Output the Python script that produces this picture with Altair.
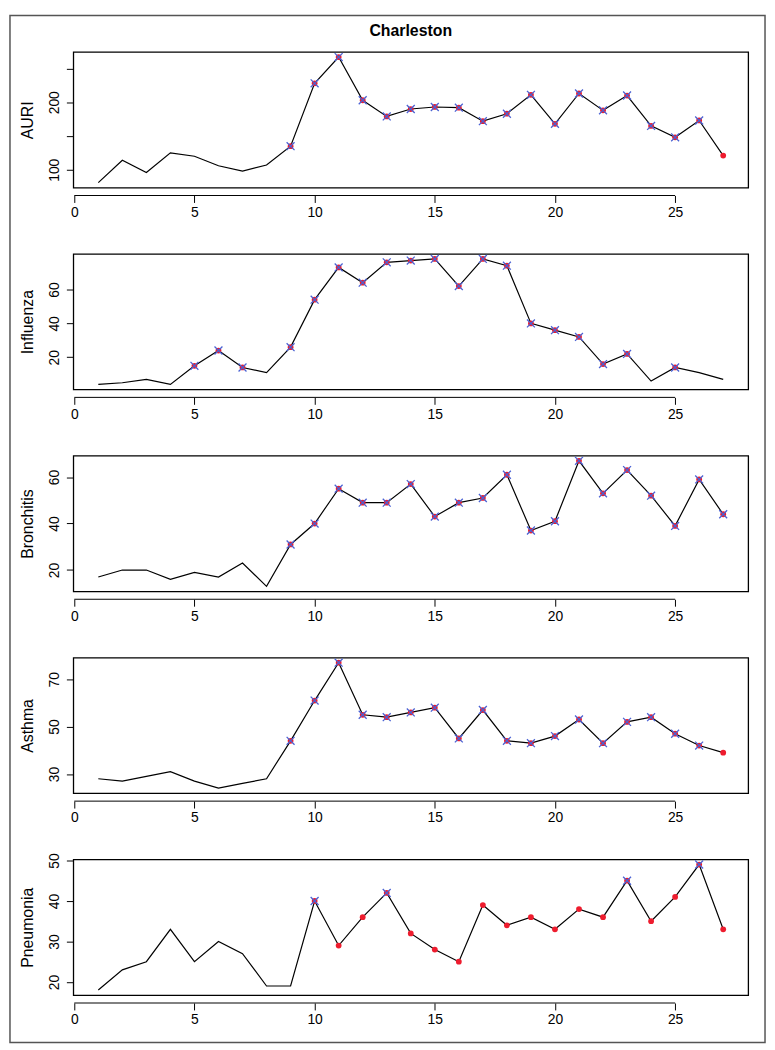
import altair as alt
import pandas as pd

weeks = [1, 2, 3, 4, 5, 6, 7, 8, 9, 10, 11, 12, 13, 14, 15, 16, 17, 18, 19, 20, 21, 22, 23, 24, 25, 26, 27]
x_ticks = [0, 5, 10, 15, 20, 25]

auri = [81, 114, 96, 125, 120, 106, 98, 107, 135, 228, 267, 203, 179, 190, 193, 192, 172, 183, 211, 168, 213, 188, 210, 165, 148, 173, 121]
influenza = [4, 5, 7, 4, 15, 24, 14, 11, 26, 54, 73, 64, 76, 77, 78, 62, 78, 74, 40, 36, 32, 16, 22, 6, 14, 11, 7]
bronchitis = [17, 20, 20, 16, 19, 17, 23, 13, 31, 40, 55, 49, 49, 57, 43, 49, 51, 61, 37, 41, 67, 53, 63, 52, 39, 59, 44]
asthma = [28, 27, 29, 31, 27, 24, 26, 28, 44, 61, 77, 55, 54, 56, 58, 45, 57, 44, 43, 46, 53, 43, 52, 54, 47, 42, 39]
pneumonia = [18, 23, 25, 33, 25, 30, 27, 19, 19, 40, 29, 36, 42, 32, 28, 25, 39, 34, 36, 33, 38, 36, 45, 35, 41, 49, 33]

# weeks flagged (red dot) and weeks with blue cross
auri_dot = [9, 10, 11, 12, 13, 14, 15, 16, 17, 18, 19, 20, 21, 22, 23, 24, 25, 26, 27]
auri_cross = [9, 10, 11, 12, 13, 14, 15, 16, 17, 18, 19, 20, 21, 22, 23, 24, 25, 26]
flu_dot = [5, 6, 7, 9, 10, 11, 12, 13, 14, 15, 16, 17, 18, 19, 20, 21, 22, 23, 25]
flu_cross = [5, 6, 7, 9, 10, 11, 12, 13, 14, 15, 16, 17, 18, 19, 20, 21, 22, 23, 25]
bron_dot = [9, 10, 11, 12, 13, 14, 15, 16, 17, 18, 19, 20, 21, 22, 23, 24, 25, 26, 27]
bron_cross = [9, 10, 11, 12, 13, 14, 15, 16, 17, 18, 19, 20, 21, 22, 23, 24, 25, 26, 27]
asthma_dot = [9, 10, 11, 12, 13, 14, 15, 16, 17, 18, 19, 20, 21, 22, 23, 24, 25, 26, 27]
asthma_cross = [9, 10, 11, 12, 13, 14, 15, 16, 17, 18, 19, 20, 21, 22, 23, 24, 25, 26]
pneu_dot = [10, 11, 12, 13, 14, 15, 16, 17, 18, 19, 20, 21, 22, 23, 24, 25, 26, 27]
pneu_cross = [10, 13, 23, 26]

auri_ticks, auri_labels = [100, 150, 200, 250], [100, 200]
flu_ticks, flu_labels = [20, 40, 60], [20, 40, 60]
bron_ticks, bron_labels = [20, 30, 40, 50, 60], [20, 40, 60]
asthma_ticks, asthma_labels = [30, 40, 50, 60, 70], [30, 50, 70]
pneu_ticks, pneu_labels = [20, 30, 40, 50], [20, 30, 40, 50]

title_text = "Charleston"

W, H = 682, 137
AXOFF = 8
RED = "#ee1c2e"
BLUE = "#4a62d4"
XSHAPE = "M -1 -1 L 1 1 M -1 1 L 1 -1"
FONT = "Liberation Sans"


def panel(name, values, dots, crosses, yticks, ylabels, extra=()):
    df = pd.DataFrame({"week": weeks, "value": values})
    df["dot"] = df["week"].isin(dots)
    df["cross"] = df["week"].isin(crosses)
    lo, hi = min(values), max(values)
    ypad = 0.04 * (hi - lo)
    xpad = 0.04 * (weeks[-1] - weeks[0])
    xs = alt.Scale(domain=[weeks[0] - xpad, weeks[-1] + xpad], nice=False, zero=False)
    ys = alt.Scale(domain=[lo - ypad, hi + ypad], nice=False, zero=False)
    x = alt.X("week:Q", scale=xs,
              axis=alt.Axis(values=x_ticks, offset=AXOFF, domain=False, tickSize=7,
                            grid=False, title=None, labelPadding=3, labelFlush=False,
                            labelOverlap=False))
    y = alt.Y("value:Q", scale=ys,
              axis=alt.Axis(values=yticks, title=name, grid=False, domain=False, tickSize=7,
                            labelAngle=270, labelAlign="center", labelBaseline="bottom",
                            labelPadding=5, titlePadding=12, labelOverlap=False,
                            labelExpr=f"indexof({ylabels}, datum.value) >= 0 ? datum.label : ''"))
    base = alt.Chart(df)
    line = base.mark_line(color="black", strokeWidth=1.2).encode(x=x, y=y)
    dot = base.transform_filter("datum.dot").mark_circle(
        color=RED, size=34, opacity=1).encode(x="week:Q", y="value:Q")
    cross = base.transform_filter("datum.cross").mark_point(
        shape=XSHAPE, color=BLUE, size=64, strokeWidth=1.3, filled=False, opacity=1
    ).encode(x="week:Q", y="value:Q")
    axdf = pd.DataFrame({"x0": [x_ticks[0]], "x1": [x_ticks[-1]]})
    axline = alt.Chart(axdf).mark_rule(color="black", strokeWidth=1).encode(
        x="x0:Q", x2="x1:Q", y=alt.value(H + AXOFF))
    return alt.layer(line, dot, cross, axline, *extra).properties(width=W, height=H)


# figure title and outer frame (decoration, drawn with the first panel)
one = pd.DataFrame({"t": [title_text]})
title_mark = alt.Chart(one).mark_text(
    font=FONT, fontSize=16, fontWeight="bold", color="black", baseline="middle", align="center"
).encode(text="t:N", x=alt.value(W / 2), y=alt.value(-21))
frame_mark = alt.Chart(one).mark_rect(
    filled=False, stroke="#555555", strokeWidth=1.5
).encode(x=alt.value(-64), x2=alt.value(699), y=alt.value(-37), y2=alt.value(1001))

chart = alt.vconcat(
    panel("AURI", auri, auri_dot, auri_cross, auri_ticks, auri_labels, (title_mark, frame_mark)),
    panel("Influenza", influenza, flu_dot, flu_cross, flu_ticks, flu_labels),
    panel("Bronchitis", bronchitis, bron_dot, bron_cross, bron_ticks, bron_labels),
    panel("Asthma", asthma, asthma_dot, asthma_cross, asthma_ticks, asthma_labels),
    panel("Pneumonia", pneumonia, pneu_dot, pneu_cross, pneu_ticks, pneu_labels),
    spacing=67,
    bounds="flush",
).properties(
    padding=0,
).configure(
    background="white"
).configure_view(
    stroke="black", strokeWidth=1.3
).configure_axis(
    labelFont=FONT, titleFont=FONT, labelFontSize=14,
    titleFontSize=16, titleFontWeight="normal", labelColor="black", titleColor="black",
    tickColor="black", tickWidth=1
)

chart.save("out.html", embed_options={"renderer": "svg", "actions": False})
